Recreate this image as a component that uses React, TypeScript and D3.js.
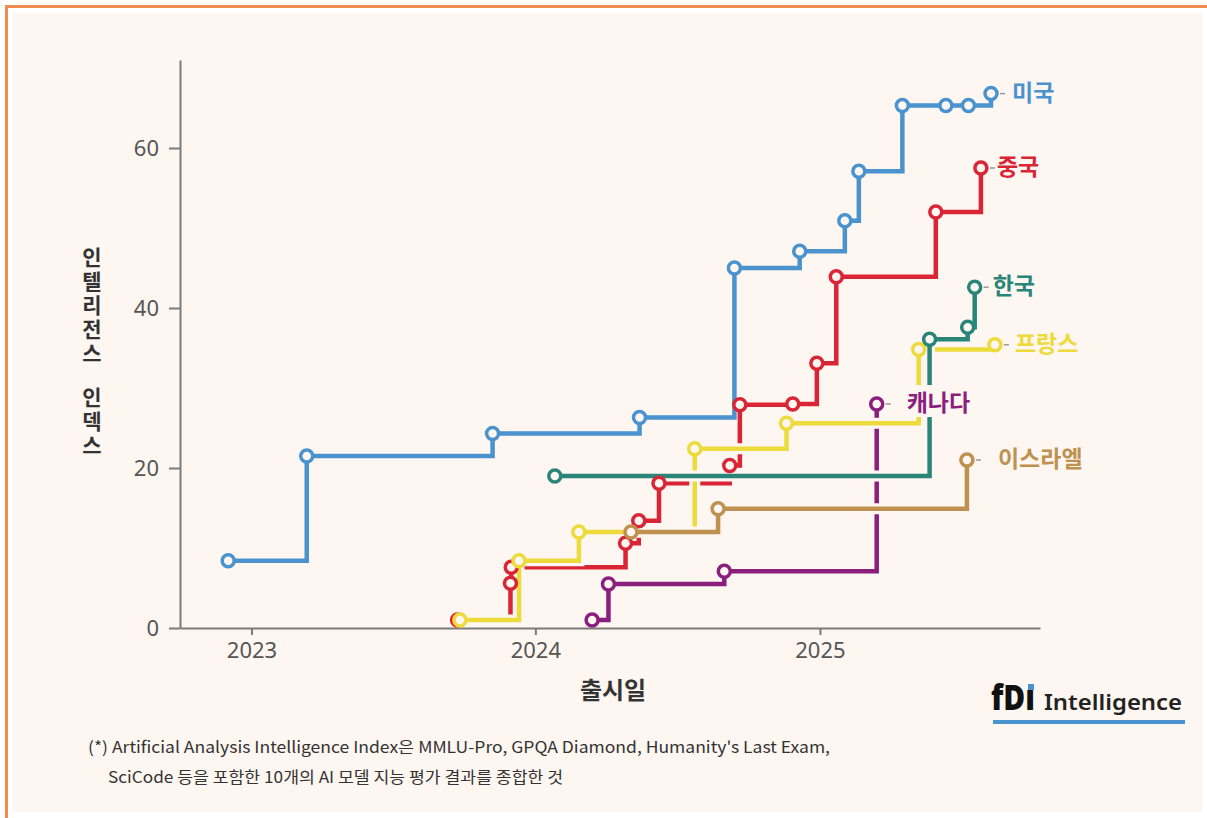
import React, { useRef, useEffect } from 'react';
import * as d3 from 'd3';

// release date + intelligence index
const usDates = ['2022-12-02', '2023-03-13', '2023-11-07', '2024-05-14', '2024-09-13', '2024-12-06', '2025-02-02', '2025-02-20', '2025-04-17', '2025-06-12', '2025-07-11', '2025-08-09'];
const usScores = [8.4, 21.5, 24.3, 26.3, 45, 47.1, 50.9, 57.1, 65.3, 65.3, 65.3, 66.8];

const chinaDates = ['2023-09-23', '2023-11-30', '2023-12-01', '2024-04-26', '2024-05-13', '2024-06-08', '2024-09-07', '2024-09-20', '2024-11-27', '2024-12-28', '2025-01-22', '2025-05-30', '2025-07-27'];
const chinaScores = [1.0, 5.6, 7.6, 10.6, 13.4, 18.1, 20.3, 27.9, 28.0, 33.1, 43.9, 52.0, 57.5];

const koreaDates = ['2024-01-26', '2025-05-22', '2025-07-10', '2025-07-19'];
const koreaScores = [19.0, 36.1, 37.6, 42.6];

const franceDates = ['2023-09-26', '2023-12-11', '2024-02-26', '2024-07-24', '2024-11-19', '2025-05-08', '2025-08-14'];
const franceScores = [1.0, 8.4, 12.0, 22.4, 25.6, 34.8, 35.4];

const canadaDates = ['2024-03-14', '2024-04-04', '2024-08-31', '2025-03-15'];
const canadaScores = [1.0, 5.5, 7.1, 28.0];

const israelDates = ['2024-05-03', '2024-08-23', '2025-07-09'];
const israelScores = [12.0, 14.9, 21.0];

const yearTicks = ['2023-01-01', '2024-01-01', '2025-01-01'];
const yTicks = [0, 20, 40, 60];
const yTitleWords = ['인텔리전스', '인덱스'];

const BG = '#fdf6f1';
const ORANGE = '#f28b4f';

const parse = d3.timeParse('%Y-%m-%d');

// drawing order = which line passes over which at crossings;
// "bridge" lines get a background casing that cuts the lines under them
const series = [
  { name: '캐나다', dates: canadaDates, scores: canadaScores, color: '#8a1f7d', dx: 30, bridge: false },
  { name: '중국', dates: chinaDates, scores: chinaScores, color: '#da2536', dx: 16, bridge: false },
  { name: '프랑스', dates: franceDates, scores: franceScores, color: '#ecdb3a', dx: 20, bridge: true },
  { name: '이스라엘', dates: israelDates, scores: israelScores, color: '#be9150', dx: 31, bridge: true },
  { name: '한국', dates: koreaDates, scores: koreaScores, color: '#2a8579', dx: 18, bridge: true },
  { name: '미국', dates: usDates, scores: usScores, color: '#4a93cf', dx: 21, bridge: false },
];

const App = () => {
  const ref = useRef(null);

  useEffect(() => {
    const W = 1207;
    const H = 818;
    const svg = d3.select(ref.current);
    svg.selectAll('*').remove();

    svg.append('rect').attr('width', W).attr('height', H).attr('fill', '#fff');
    svg.append('rect').attr('x', 13).attr('y', 13).attr('width', 1189).attr('height', 799).attr('fill', BG);
    svg.append('path')
      .attr('d', `M6.5,${H} V6.5 H${W}`)
      .attr('fill', 'none')
      .attr('stroke', ORANGE)
      .attr('stroke-width', 3);

    const x = d3.scaleTime()
      .domain([parse('2022-10-01'), parse('2025-10-11')])
      .range([180, 1040]);
    const y = d3.scaleLinear().domain([0, 71]).range([628, 60]);

    const tickFont = "'Noto Sans', sans-serif";

    const xAxis = svg.append('g')
      .attr('transform', 'translate(0,628)')
      .call(d3.axisBottom(x)
        .tickValues(yearTicks.map(d => parse(d)))
        .tickFormat(d3.timeFormat('%Y'))
        .tickSize(7)
        .tickSizeOuter(0)
        .tickPadding(7));
    const yAxis = svg.append('g')
      .attr('transform', 'translate(180,0)')
      .call(d3.axisLeft(y)
        .tickValues(yTicks)
        .tickSize(11)
        .tickSizeOuter(0)
        .tickPadding(10));

    [xAxis, yAxis].forEach(g => {
      g.select('.domain').attr('stroke', '#7a7a7a').attr('stroke-width', 2);
      g.selectAll('.tick line').attr('stroke', '#7a7a7a').attr('stroke-width', 2);
      g.selectAll('.tick text')
        .attr('fill', '#555')
        .attr('font-family', tickFont)
        .attr('font-size', 22);
    });
    yAxis.selectAll('.tick text').attr('dy', '0.35em');

    const kr = "'Noto Sans CJK KR', sans-serif";

    svg.append('text')
      .attr('x', 613)
      .attr('y', 699)
      .attr('text-anchor', 'middle')
      .attr('font-family', kr)
      .attr('font-weight', 700)
      .attr('font-size', 24)
      .attr('fill', '#333')
      .text('출시일');

    // stacked (upright, top-to-bottom) axis title
    const titleTops = [247, 387];
    yTitleWords.forEach((w, i) => {
      svg.append('text')
        .attr('x', 92)
        .attr('y', titleTops[i])
        .style('writing-mode', 'vertical-rl')
        .style('text-orientation', 'upright')
        .attr('letter-spacing', 3)
        .attr('font-family', kr)
        .attr('font-weight', 700)
        .attr('font-size', 21)
        .attr('fill', '#333')
        .text(w);
    });

    const line = d3.line()
      .x(d => x(d[0]))
      .y(d => y(d[1]))
      .curve(d3.curveStepAfter);

    const pts = s => s.dates.map((d, i) => [parse(d), s.scores[i]]);

    const lines = svg.append('g').attr('fill', 'none');
    series.forEach(s => {
      if (s.bridge) {
        lines.append('path')
          .attr('d', line(pts(s)))
          .attr('stroke', BG)
          .attr('stroke-width', 11)
          .attr('stroke-linejoin', 'miter');
      }
      lines.append('path')
        .attr('d', line(pts(s)))
        .attr('stroke', s.color)
        .attr('stroke-width', 4.5)
        .attr('stroke-linejoin', 'miter');
    });

    series.forEach(s => {
      svg.append('g').selectAll('circle')
        .data(pts(s))
        .enter()
        .append('circle')
        .attr('cx', d => x(d[0]))
        .attr('cy', d => y(d[1]))
        .attr('r', 6)
        .attr('fill', BG)
        .attr('stroke', s.color)
        .attr('stroke-width', 3.5);
    });

    // end labels
    series.forEach(s => {
      const p = pts(s);
      const last = p[p.length - 1];
      const cx = x(last[0]);
      const cy = y(last[1]);
      svg.append('line')
        .attr('x1', cx + 9)
        .attr('x2', cx + 14)
        .attr('y1', cy)
        .attr('y2', cy)
        .attr('stroke', '#999')
        .attr('stroke-width', 1.5);
      const g = svg.append('g');
      const t = g.append('text')
        .attr('x', cx + s.dx)
        .attr('y', cy - 1)
        .attr('dy', '0.35em')
        .attr('font-family', kr)
        .attr('font-weight', 700)
        .attr('font-size', 23)
        .attr('fill', s.color)
        .text(s.name);
      const bb = t.node().getBBox();
      g.insert('rect', 'text')
        .attr('x', bb.x - 2)
        .attr('y', bb.y + 1)
        .attr('width', bb.width + 4)
        .attr('height', bb.height - 2)
        .attr('fill', BG);
    });

    // footnote
    svg.append('text')
      .attr('x', 88)
      .attr('y', 753)
      .attr('font-family', kr)
      .attr('font-size', 16)
      .attr('fill', '#333')
      .attr('textLength', 742)
      .attr('lengthAdjust', 'spacingAndGlyphs')
      .text("(*) Artificial Analysis Intelligence Index은 MMLU-Pro, GPQA Diamond, Humanity's Last Exam,");
    svg.append('text')
      .attr('x', 108)
      .attr('y', 783)
      .attr('font-family', kr)
      .attr('font-size', 16)
      .attr('fill', '#333')
      .attr('textLength', 455)
      .attr('lengthAdjust', 'spacingAndGlyphs')
      .text('SciCode 등을 포함한 10개의 AI 모델 지능 평가 결과를 종합한 것');

    // logo
    svg.append('text')
      .attr('x', 991)
      .attr('y', 710)
      .attr('font-family', "'Noto Sans', sans-serif")
      .attr('font-weight', 900)
      .attr('font-size', 35)
      .attr('fill', '#111')
      .attr('textLength', 44)
      .attr('lengthAdjust', 'spacingAndGlyphs')
      .text('fDı');
    svg.append('rect')
      .attr('x', 1028).attr('y', 684).attr('width', 6).attr('height', 6)
      .attr('fill', '#4a93cf');
    svg.append('text')
      .attr('x', 1044)
      .attr('y', 710)
      .attr('font-family', "'Noto Sans', sans-serif")
      .attr('font-weight', 600)
      .attr('font-size', 22)
      .attr('fill', '#222')
      .attr('textLength', 138)
      .attr('lengthAdjust', 'spacingAndGlyphs')
      .text('Intelligence');
    svg.append('rect')
      .attr('x', 993).attr('y', 720).attr('width', 192).attr('height', 4)
      .attr('fill', '#4a93cf');
  }, []);

  return (
    <div style={{ position: 'absolute', left: 0, top: 0 }}>
      <svg ref={ref} width={1207} height={818} style={{ display: 'block' }} />
    </div>
  );
};

export default App;
